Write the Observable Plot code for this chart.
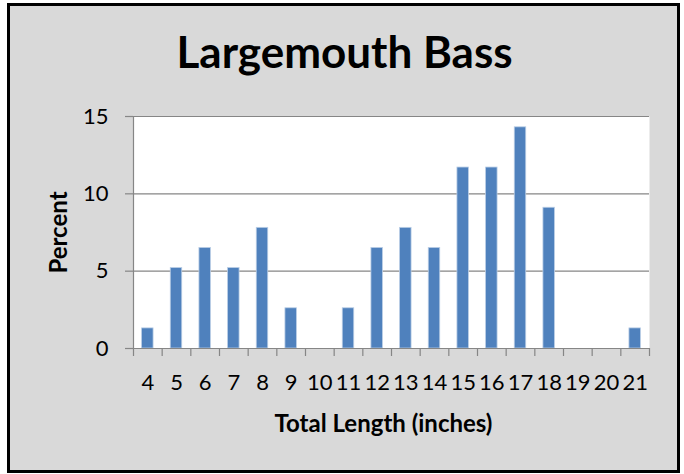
<!DOCTYPE html>
<html>
<head>
<meta charset="utf-8">
<script src="https://cdn.jsdelivr.net/npm/d3@7"></script>
<script src="https://cdn.jsdelivr.net/npm/@observablehq/plot@0.6"></script>
<style>
  html, body { margin: 0; padding: 0; background: #ffffff; }
  #wrap { position: relative; width: 684px; height: 474px; overflow: hidden; background: #ffffff; }
  #frame { position: absolute; left: 7px; top: 3px; width: 673px; height: 470px; box-sizing: border-box;
           border: 3px solid #000; background: #d9d9d9; }
  #chart { position: absolute; left: 0; top: 0; }
  #chart svg { background: transparent; }
</style>
</head>
<body>
<div id="wrap"><div id="frame"></div><div id="chart"></div></div>
<script>
const title = "Largemouth Bass";
const xTitle = "Total Length (inches)";
const yTitle = "Percent";
const lengths = [4, 5, 6, 7, 8, 9, 10, 11, 12, 13, 14, 15, 16, 17, 18, 19, 20, 21];
const percents = [1.3, 5.2, 6.5, 5.2, 7.8, 2.6, 0, 2.6, 6.5, 7.8, 6.5, 11.7, 11.7, 14.3, 9.1, 0, 0, 1.3];
const yTicks = [0, 5, 10, 15];

const data = lengths.map((len, i) => ({len, pct: percents[i]}));
const bounds = lengths.map(d => d - 0.5).concat([lengths[lengths.length - 1] + 0.5]);
const halfBar = 0.2;
const font = "Lato, 'Open Sans', sans-serif";

const chart = Plot.plot({
  width: 684,
  height: 474,
  marginLeft: 133,
  marginRight: 35,
  marginTop: 116,
  marginBottom: 126,
  style: {background: "transparent", fontFamily: font, fontSize: "22px", color: "#000"},
  x: {domain: [bounds[0], bounds[bounds.length - 1]]},
  y: {domain: [0, 15]},
  marks: [
    Plot.frame({fill: "#ffffff", stroke: null}),
    Plot.gridY(yTicks, {stroke: "#868686", strokeOpacity: 1, strokeWidth: 1.2}),
    Plot.rectY(data.filter(d => d.pct > 0), {
      x1: d => d.len - halfBar, x2: d => d.len + halfBar, y: "pct",
      fill: "#4f81bd", stroke: "#b9cde5", strokeWidth: 0.8
    }),
    Plot.ruleX([bounds[0]], {stroke: "#868686", strokeWidth: 1.2}),
    Plot.ruleY([0], {stroke: "#868686", strokeWidth: 1.2}),
    Plot.axisY(yTicks, {
      tickSize: 8, stroke: "#868686", strokeWidth: 1.2, tickFormat: () => "", label: null
    }),
    Plot.axisX(bounds, {
      tickSize: 8, stroke: "#868686", strokeWidth: 1.2, tickFormat: () => "", label: null
    }),
    Plot.text(yTicks, {
      y: d => d, frameAnchor: "left", textAnchor: "end", lineAnchor: "middle", dx: -25,
      fontSize: 22, fill: "#000", text: d => String(d)
    }),
    Plot.text(lengths, {
      x: d => d, frameAnchor: "bottom", textAnchor: "middle", lineAnchor: "top", dy: 26,
      fontSize: 22, fill: "#000", text: d => String(d)
    }),
    Plot.text([title], {
      frameAnchor: "top", lineAnchor: "bottom", textAnchor: "middle", dx: -47, dy: -49,
      fontSize: 44, fontWeight: "bold", fill: "#000", text: d => d
    }),
    Plot.text([xTitle], {
      frameAnchor: "bottom", lineAnchor: "bottom", textAnchor: "middle", dx: -8, dy: 83,
      fontSize: 24, fontWeight: "bold", fill: "#000", text: d => d
    }),
    Plot.text([yTitle], {
      frameAnchor: "left", lineAnchor: "bottom", textAnchor: "middle", rotate: -90, dx: -67, dy: 0,
      fontSize: 24, fontWeight: "bold", fill: "#000", text: d => d
    })
  ]
});
document.getElementById("chart").appendChild(chart);
</script>
</body>
</html>
